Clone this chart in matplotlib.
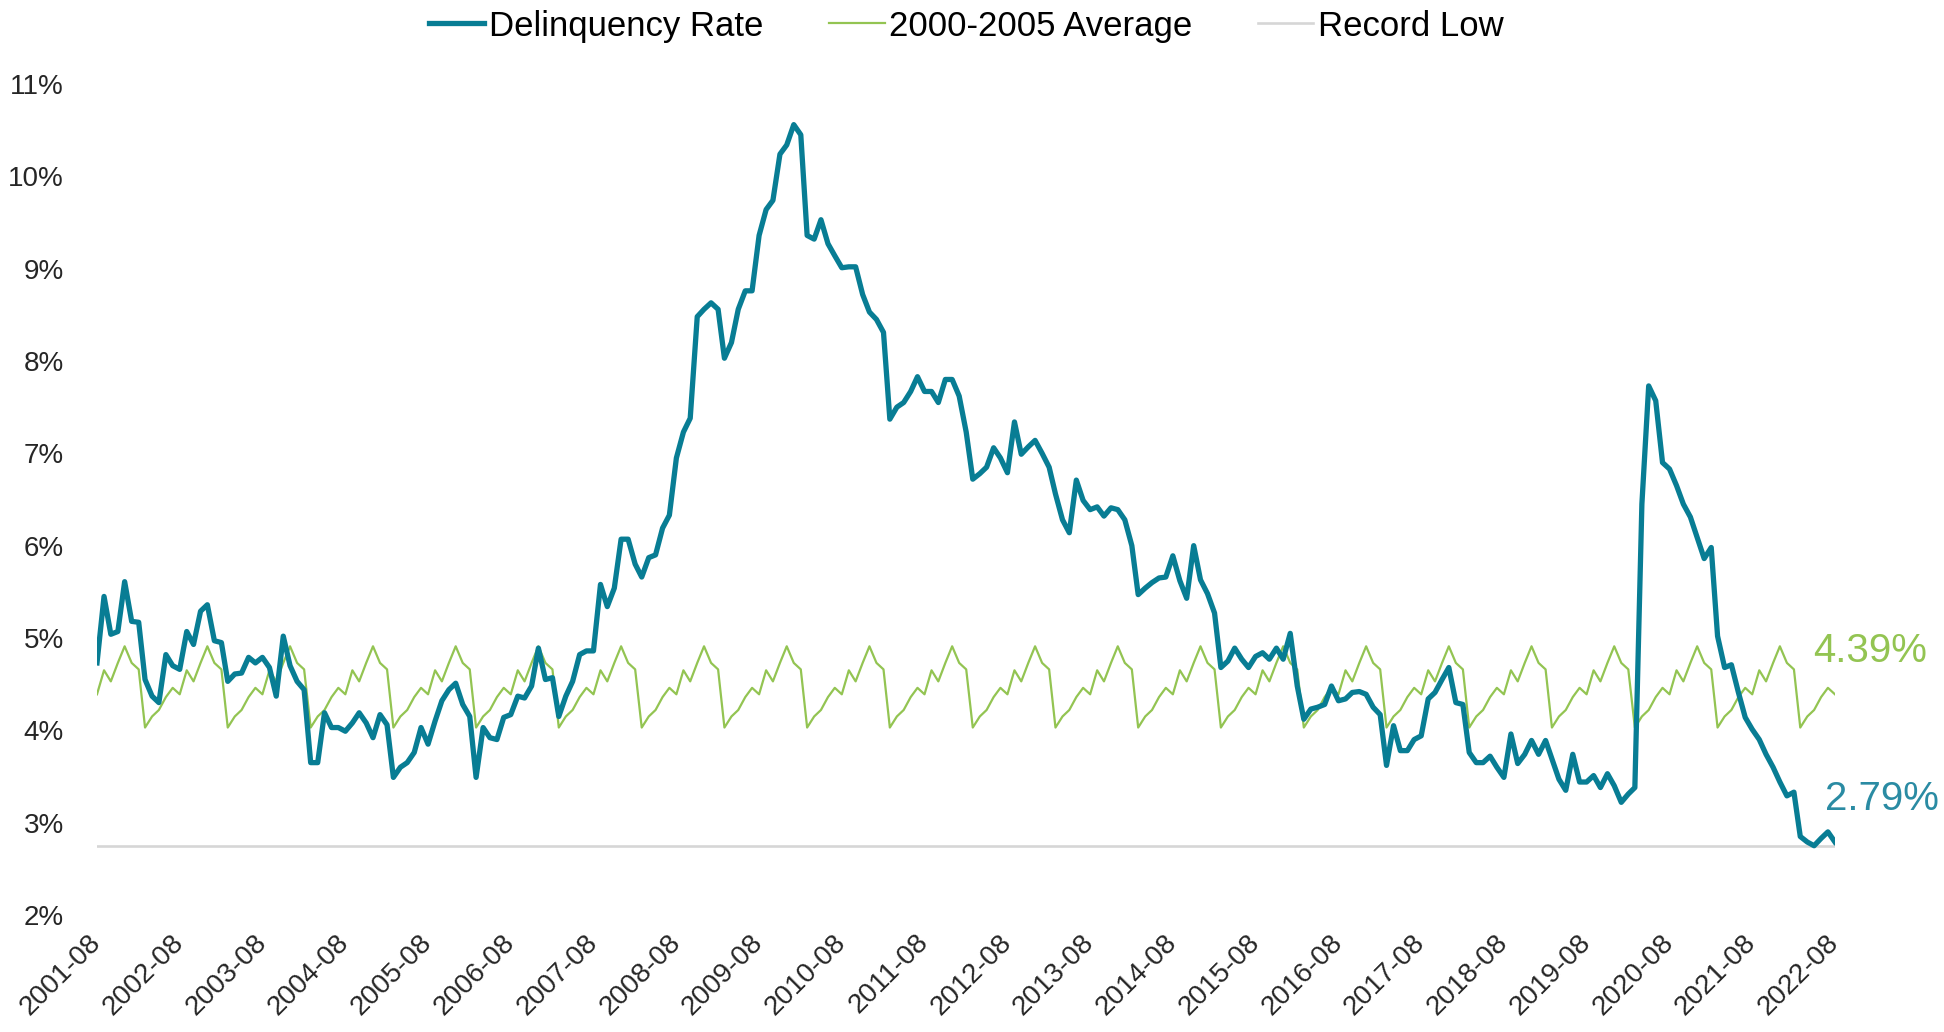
import matplotlib
matplotlib.use("Agg")
import matplotlib.pyplot as plt
import pandas as pd

plt.rcParams['font.family'] = ['Liberation Sans', 'DejaVu Sans']

# ---------------- data ----------------
start_month = "2001-08"
delinquency_rate = [
    4.73, 5.45, 5.04, 5.07, 5.61, 5.18, 5.17, 4.55, 4.37, 4.30, 4.82, 4.70,
    4.66, 5.07, 4.93, 5.29, 5.36, 4.97, 4.95, 4.53, 4.61, 4.62, 4.79, 4.73,
    4.79, 4.68, 4.37, 5.02, 4.70, 4.53, 4.44, 3.65, 3.65, 4.19, 4.03, 4.03,
    3.99, 4.08, 4.19, 4.08, 3.92, 4.17, 4.06, 3.49, 3.60, 3.65, 3.76, 4.03,
    3.85, 4.10, 4.32, 4.44, 4.51, 4.28, 4.15, 3.49, 4.03, 3.92, 3.90, 4.14,
    4.17, 4.37, 4.35, 4.48, 4.89, 4.55, 4.57, 4.15, 4.37, 4.53, 4.82, 4.86,
    4.86, 5.58, 5.34, 5.54, 6.07, 6.07, 5.80, 5.66, 5.87, 5.90, 6.19, 6.33,
    6.95, 7.23, 7.38, 8.48, 8.56, 8.63, 8.56, 8.03, 8.20, 8.56, 8.76, 8.76,
    9.36, 9.64, 9.74, 10.24, 10.34, 10.56, 10.45, 9.36, 9.32, 9.53, 9.27, 9.14,
    9.01, 9.02, 9.02, 8.72, 8.53, 8.45, 8.31, 7.37, 7.50, 7.55, 7.67, 7.83,
    7.67, 7.67, 7.55, 7.80, 7.80, 7.62, 7.23, 6.72, 6.78, 6.85, 7.06, 6.95,
    6.79, 7.34, 6.99, 7.07, 7.14, 7.00, 6.85, 6.56, 6.28, 6.14, 6.71, 6.49,
    6.39, 6.42, 6.32, 6.41, 6.39, 6.28, 6.00, 5.47, 5.54, 5.60, 5.65, 5.66,
    5.89, 5.62, 5.43, 6.00, 5.63, 5.48, 5.27, 4.68, 4.75, 4.89, 4.77, 4.68,
    4.80, 4.84, 4.77, 4.89, 4.77, 5.05, 4.48, 4.12, 4.23, 4.25, 4.28, 4.48,
    4.32, 4.34, 4.41, 4.42, 4.39, 4.25, 4.17, 3.62, 4.05, 3.78, 3.78, 3.90,
    3.94, 4.34, 4.41, 4.55, 4.68, 4.30, 4.28, 3.76, 3.65, 3.65, 3.72, 3.60,
    3.49, 3.96, 3.64, 3.74, 3.89, 3.74, 3.89, 3.69, 3.47, 3.35, 3.74, 3.44,
    3.44, 3.51, 3.38, 3.53, 3.40, 3.22, 3.31, 3.38, 6.45, 7.73, 7.57, 6.90,
    6.83, 6.65, 6.45, 6.31, 6.09, 5.86, 5.98, 5.02, 4.68, 4.71, 4.41, 4.14,
    4.01, 3.90, 3.74, 3.60, 3.44, 3.29, 3.33, 2.85, 2.79, 2.75, 2.83, 2.90,
    2.79,
]
# 2000-2005 average by calendar month (Aug .. Jul)
avg_by_month_aug_to_jul = [4.39, 4.65, 4.53, 4.73, 4.91, 4.73,
                           4.66, 4.03, 4.15, 4.22, 4.36, 4.46]
record_low = 2.75
tick_labels = ["2001-08", "2002-08", "2003-08", "2004-08", "2005-08", "2006-08",
               "2007-08", "2008-08", "2009-08", "2010-08", "2011-08", "2012-08",
               "2013-08", "2014-08", "2015-08", "2016-08", "2017-08", "2018-08",
               "2019-08", "2020-08", "2021-08", "2022-08"]
y_ticks = [2, 3, 4, 5, 6, 7, 8, 9, 10, 11]

# ---------------- build ----------------
n = len(delinquency_rate)
dates = pd.date_range(start_month, periods=n, freq="MS")
avg_series = [avg_by_month_aug_to_jul[k % 12] for k in range(n)]
tick_dates = pd.to_datetime(tick_labels, format="%Y-%m")

teal = "#087d94"
green = "#93c452"
gray = "#d6d6d6"

fig = plt.figure(figsize=(19.44, 10.32), dpi=100)
ax = fig.add_axes([0.0499, 0.1134, 0.8940, 0.8052])

ax.plot(dates, [record_low] * n, color=gray, lw=1.9, label="Record Low", zorder=1)
ax.plot(dates, avg_series, color=green, lw=1.6, label="2000-2005 Average", zorder=2)
ax.plot(dates, delinquency_rate, color=teal, lw=3.8, label="Delinquency Rate",
        zorder=3, solid_joinstyle="round")

ax.set_xlim(dates[0], dates[-1])
ax.set_ylim(2, 11)
ax.set_yticks(y_ticks)
ax.set_yticklabels([f"{v}%" for v in y_ticks])
ax.set_xticks(tick_dates)
ax.set_xticklabels(tick_labels, rotation=45, ha="right", va="center",
                   rotation_mode="anchor")
for s in ax.spines.values():
    s.set_visible(False)
ax.tick_params(axis="y", length=0, pad=24, labelsize=20, labelcolor="#262626")
ax.tick_params(axis="x", length=0, pad=17, labelsize=20, labelcolor="#262626")

# end-point labels
ax.annotate(f"{avg_series[-1]:.2f}%", xy=(dates[-1], avg_series[-1]),
            xytext=(-16, 31), textcoords="offset points", ha="left", va="center",
            color=green, fontsize=29, annotation_clip=False)
ax.annotate(f"{delinquency_rate[-1]:.2f}%", xy=(dates[-1], delinquency_rate[-1]),
            xytext=(-7, 31), textcoords="offset points", ha="left", va="center",
            color="#2a8ba3", fontsize=29, annotation_clip=False)

handles, labels = ax.get_legend_handles_labels()
order = [2, 1, 0]
fig.legend([handles[i] for i in order], [labels[i] for i in order],
           loc="upper center", bbox_to_anchor=(0.497, 1.021), ncol=3,
           frameon=False, fontsize=25, handlelength=1.6, handletextpad=0.12,
           columnspacing=1.9)

fig.savefig("out.png", dpi=100)
